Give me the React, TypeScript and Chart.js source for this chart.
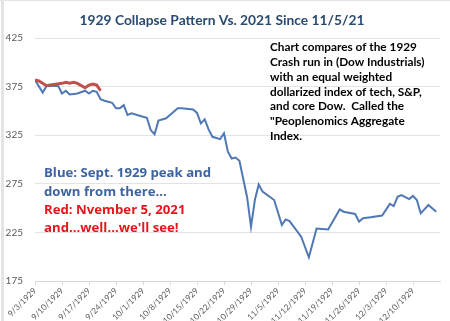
import React, { useEffect, useRef } from "react";
import { Chart, registerables } from "chart.js";

Chart.register(...registerables);

const startDate = "9/3/1929";
const titleText = "1929 Collapse Pattern Vs. 2021 Since 11/5/21";

const tickLabels = [
  "9/3/1929", "9/10/1929", "9/17/1929", "9/24/1929", "10/1/1929", "10/8/1929",
  "10/15/1929", "10/22/1929", "10/29/1929", "11/5/1929", "11/12/1929",
  "11/19/1929", "11/26/1929", "12/3/1929", "12/10/1929",
];
const yMin = 175;
const yMax = 425;
const yStep = 50;
const xEndDate = "12/17/1929";

const blueDates = [
  "9/3/1929", "9/5/1929", "9/6/1929", "9/7/1929", "9/9/1929", "9/10/1929", "9/11/1929",
  "9/12/1929", "9/13/1929", "9/14/1929", "9/16/1929", "9/17/1929", "9/18/1929", "9/19/1929",
  "9/20/1929", "9/21/1929", "9/23/1929", "9/24/1929", "9/25/1929", "9/26/1929", "9/27/1929",
  "9/28/1929", "10/1/1929", "10/2/1929", "10/3/1929", "10/4/1929", "10/5/1929", "10/7/1929",
  "10/8/1929", "10/10/1929", "10/11/1929", "10/14/1929", "10/15/1929", "10/16/1929",
  "10/17/1929", "10/18/1929", "10/19/1929", "10/21/1929", "10/22/1929", "10/23/1929",
  "10/24/1929", "10/25/1929", "10/26/1929", "10/28/1929", "10/29/1929", "10/30/1929",
  "10/31/1929", "11/1/1929", "11/4/1929", "11/6/1929", "11/7/1929", "11/8/1929",
  "11/11/1929", "11/12/1929", "11/13/1929", "11/15/1929", "11/18/1929", "11/21/1929",
  "11/22/1929", "11/25/1929", "11/26/1929", "11/27/1929", "11/29/1929", "12/2/1929",
  "12/4/1929", "12/5/1929", "12/6/1929", "12/7/1929", "12/9/1929", "12/10/1929",
  "12/11/1929", "12/12/1929", "12/14/1929", "12/16/1929",
];
const blueValues = [
  381.8, 369, 375.6, 376, 375.6, 368, 370.8,
  367, 367.5, 368, 370.8, 368, 370.8, 369.7,
  362, 360.5, 358.4, 352.7, 352.7, 356, 345.8,
  347.5, 344, 343, 330.3, 326, 340, 342.4,
  345.8, 352.7, 352.7, 351.6, 348, 337.2,
  341.3, 331, 323.4, 321, 327, 308,
  301, 302, 298.8, 261, 230.8, 258.3,
  274.4, 267, 258.3, 232.6, 238.4, 236.7,
  220.6, 210, 199.4, 229, 228, 248.7,
  246.3, 244, 236.1, 239.6, 240.5, 242.3,
  254.3, 252.1, 261.7, 263.4, 259.3, 262.5,
  258.3, 244.6, 253.2, 246.3,
];

const redDates = [
  "9/3/1929", "9/4/1929", "9/6/1929", "9/7/1929", "9/10/1929", "9/11/1929", "9/12/1929",
  "9/13/1929", "9/14/1929", "9/16/1929", "9/17/1929", "9/18/1929", "9/19/1929", "9/20/1929",
];
const redValues = [
  381.8, 380.8, 376, 376.6, 378.4, 379.4, 378.5,
  379.4, 378.4, 373.9, 376.6, 377.7, 376.6, 370.8,
];

const noteLines = [
  "Chart compares of the 1929",
  "Crash run in (Dow Industrials)",
  "with an equal weighted",
  "dollarized index of tech, S&P,",
  "and core Dow.  Called the",
  "\"Peoplenomics Aggregate",
  "Index.",
];
const blueNoteLines = ["Blue: Sept. 1929 peak and", "down from there..."];
const redNoteLines = ["Red: Nvember 5, 2021", "and...well...we'll see!"];

function dayIndex(s: string): number {
  const [m, d, y] = s.split("/").map(Number);
  const [m0, d0, y0] = startDate.split("/").map(Number);
  return Math.round((Date.UTC(y, m - 1, d) - Date.UTC(y0, m0 - 1, d0)) / 86400000);
}

const annotationPlugin = {
  id: "annotations",
  afterDraw(chart: any) {
    const ctx = chart.ctx;
    ctx.save();
    // faint frame on left / top edges
    ctx.fillStyle = "#e4e4e4";
    ctx.fillRect(1, 0, 3, chart.height);
    ctx.fillRect(0, 0, chart.width, 1);

    ctx.textAlign = "left";
    ctx.textBaseline = "middle";
    ctx.fillStyle = "#000000";
    ctx.font = "bold 11.8px Lato";
    noteLines.forEach((t, i) => ctx.fillText(t, 270, 47 + i * 14.9));

    ctx.font = "bold 13.2px 'Open Sans'";
    ctx.fillStyle = "#3d64a0";
    blueNoteLines.forEach((t, i) => ctx.fillText(t, 44, 173.5 + i * 18.3));
    ctx.fillStyle = "#e8141b";
    redNoteLines.forEach((t, i) => ctx.fillText(t, 44, 210 + i * 18.3));
    ctx.restore();
  },
};

export default function App() {
  const canvasRef = useRef<HTMLCanvasElement | null>(null);

  useEffect(() => {
    document.body.style.margin = "0";
    const canvas = canvasRef.current;
    if (!canvas) return;

    const blueData = blueDates.map((d, i) => ({ x: dayIndex(d), y: blueValues[i] }));
    const redData = redDates.map((d, i) => ({ x: dayIndex(d), y: redValues[i] }));
    const tickDays = tickLabels.map((l) => dayIndex(l));

    const chart = new Chart(canvas, {
      type: "line",
      data: {
        datasets: [
          {
            label: "2021",
            data: redData,
            borderColor: "#c0504d",
            borderWidth: 3,
            pointRadius: 0,
            tension: 0,
          },
          {
            label: "1929",
            data: blueData,
            borderColor: "#4f78b4",
            borderWidth: 2,
            pointRadius: 0,
            tension: 0,
          },
        ],
      },
      options: {
        animation: false,
        responsive: false,
        maintainAspectRatio: false,
        layout: { padding: { left: 4, right: 10, top: 0, bottom: 0 } },
        plugins: {
          legend: { display: false },
          tooltip: { enabled: false },
          title: {
            display: true,
            text: titleText,
            color: "#2b4a70",
            font: { family: "Lato", size: 13.8, weight: "bold" },
            padding: { top: 12, bottom: 9.5 },
          },
        },
        scales: {
          x: {
            type: "linear",
            min: 0,
            max: dayIndex(xEndDate),
            afterBuildTicks: (axis: any) => {
              axis.ticks = tickDays.map((v) => ({ value: v }));
            },
            afterFit: (axis: any) => {
              axis.height = 40;
            },
            grid: {
              drawOnChartArea: false,
              drawTicks: true,
              tickLength: 4,
              color: "#d9d9d9",
            },
            border: { display: true, color: "#d9d9d9" },
            ticks: {
              autoSkip: false,
              maxRotation: 45,
              minRotation: 45,
              padding: 1,
              color: "#595959",
              font: { family: "Lato", size: 8.3 },
              callback: (v: any) => {
                const idx = tickDays.indexOf(Number(v));
                return idx >= 0 ? tickLabels[idx] : "";
              },
            },
          },
          y: {
            min: yMin,
            max: yMax,
            afterFit: (axis: any) => {
              axis.width = 31;
            },
            grid: { color: "#e3e3e3", drawTicks: false },
            border: { display: false },
            ticks: {
              stepSize: yStep,
              padding: 12,
              color: "#595959",
              font: { family: "Lato", size: 10 },
            },
          },
        },
      },
      plugins: [annotationPlugin],
    } as any);

    return () => chart.destroy();
  }, []);

  return (
    <div style={{ width: 450, height: 321, position: "relative", background: "#ffffff" }}>
      <canvas ref={canvasRef} width={450} height={321} style={{ display: "block" }} />
    </div>
  );
}
